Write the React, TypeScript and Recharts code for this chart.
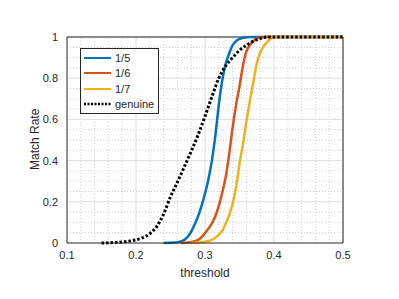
import { LineChart, Line, XAxis, YAxis, ReferenceLine } from "recharts";

const xTicks = [0.1, 0.2, 0.3, 0.4, 0.5];
const yTicks = [0, 0.2, 0.4, 0.6, 0.8, 1];
const xMinor = [0.12, 0.14, 0.16, 0.18, 0.22, 0.24, 0.26, 0.28, 0.32, 0.34, 0.36, 0.38, 0.42, 0.44, 0.46, 0.48];
const yMinor = [0.05, 0.1, 0.15, 0.25, 0.3, 0.35, 0.45, 0.5, 0.55, 0.65, 0.7, 0.75, 0.85, 0.9, 0.95];

const fifthX = [0.24, 0.25, 0.26, 0.27, 0.275, 0.28, 0.285, 0.29, 0.295, 0.3, 0.305, 0.31, 0.315, 0.32, 0.325, 0.33, 0.335, 0.34, 0.345, 0.35, 0.355, 0.36, 0.37, 0.4, 0.45, 0.5];
const fifthY = [0, 0.001, 0.004, 0.015, 0.03, 0.055, 0.09, 0.13, 0.18, 0.24, 0.31, 0.4, 0.52, 0.67, 0.79, 0.87, 0.92, 0.96, 0.98, 0.99, 0.996, 0.999, 1, 1, 1, 1];

const sixthX = [0.265, 0.27, 0.28, 0.29, 0.295, 0.3, 0.305, 0.31, 0.315, 0.32, 0.325, 0.33, 0.335, 0.34, 0.345, 0.35, 0.355, 0.36, 0.365, 0.37, 0.375, 0.38, 0.39, 0.42, 0.5];
const sixthY = [0, 0.001, 0.005, 0.015, 0.028, 0.047, 0.07, 0.095, 0.13, 0.18, 0.245, 0.32, 0.43, 0.56, 0.67, 0.76, 0.86, 0.93, 0.96, 0.98, 0.993, 0.998, 1, 1, 1];

const seventhX = [0.28, 0.29, 0.3, 0.31, 0.315, 0.32, 0.325, 0.33, 0.335, 0.34, 0.345, 0.35, 0.355, 0.36, 0.365, 0.37, 0.375, 0.38, 0.385, 0.39, 0.395, 0.4, 0.42, 0.5];
const seventhY = [0, 0.002, 0.006, 0.015, 0.025, 0.04, 0.06, 0.095, 0.135, 0.19, 0.27, 0.385, 0.48, 0.59, 0.69, 0.78, 0.87, 0.925, 0.955, 0.975, 0.99, 1, 1, 1];

const genuineX = [0.15, 0.16, 0.17, 0.18, 0.19, 0.2, 0.21, 0.22, 0.23, 0.24, 0.25, 0.26, 0.27, 0.28, 0.29, 0.3, 0.31, 0.32, 0.33, 0.34, 0.35, 0.36, 0.37, 0.38, 0.39, 0.4, 0.45, 0.5];
const genuineY = [0, 0.001, 0.003, 0.005, 0.009, 0.015, 0.026, 0.045, 0.08, 0.14, 0.225, 0.295, 0.37, 0.445, 0.525, 0.615, 0.71, 0.8, 0.86, 0.9, 0.935, 0.96, 0.98, 0.993, 1, 1, 1, 1];

const toPoints = (xs: number[], ys: number[]) => xs.map((x, i) => ({ x, y: ys[i] }));

const series = [
  { name: "1/5", color: "#0072BD", data: toPoints(fifthX, fifthY), dash: undefined as string | undefined },
  { name: "1/6", color: "#D95319", data: toPoints(sixthX, sixthY), dash: undefined },
  { name: "1/7", color: "#EDB120", data: toPoints(seventhX, seventhY), dash: undefined },
  { name: "genuine", color: "#000000", data: toPoints(genuineX, genuineY), dash: "2.5 2" },
];

const font = "'Liberation Sans', Arial, sans-serif";
const axisColor = "#262626";

function LegendBox() {
  return (
    <div
      style={{
        position: "absolute",
        left: 80,
        top: 48,
        width: 77,
        height: 63,
        border: "1px solid #262626",
        background: "#fff",
        fontFamily: font,
        fontSize: 11,
        color: axisColor,
        paddingTop: 1,
      }}
    >
      {series.map((s) => (
        <div key={s.name} style={{ display: "flex", alignItems: "center", height: 15.5 }}>
          <svg width={31} height={6} style={{ marginLeft: 3 }}>
            <line
              x1={0}
              y1={3}
              x2={27}
              y2={3}
              stroke={s.color}
              strokeWidth={s.dash ? 2.5 : 2}
              strokeDasharray={s.dash ? "2 1.5" : undefined}
            />
          </svg>
          <span>{s.name}</span>
        </div>
      ))}
    </div>
  );
}

export default function App() {
  return (
    <div style={{ position: "absolute", left: 0, top: 0, width: 399, height: 299, background: "#fff" }}>
      <LineChart width={399} height={299} margin={{ top: 37, right: 56, bottom: 26, left: 27 }}>
        <XAxis
          dataKey="x"
          type="number"
          domain={[0.1, 0.5]}
          ticks={xTicks}
          allowDuplicatedCategory={false}
          tickFormatter={(v: number) => String(v)}
          tick={{ fill: axisColor, fontSize: 11, fontFamily: font }}
          tickLine={false}
          axisLine={{ stroke: axisColor }}
          height={30}
          label={{ value: "threshold", position: "insideBottom", offset: -4, fill: axisColor, fontSize: 12, fontFamily: font }}
        />
        <YAxis
          type="number"
          domain={[0, 1]}
          ticks={yTicks}
          tickFormatter={(v: number) => String(v)}
          tick={{ fill: axisColor, fontSize: 11, fontFamily: font }}
          tickLine={false}
          tickMargin={3}
          axisLine={{ stroke: axisColor }}
          width={40}
          label={{ value: "Match Rate", angle: -90, position: "insideLeft", offset: 8, dy: 30, fill: axisColor, fontSize: 12, fontFamily: font }}
        />
        {xMinor.map((v) => (
          <ReferenceLine key={`xm${v}`} x={v} stroke="#d0d0d0" strokeDasharray="1 2" />
        ))}
        {yMinor.map((v) => (
          <ReferenceLine key={`ym${v}`} y={v} stroke="#d0d0d0" strokeDasharray="1 2" />
        ))}
        {xTicks.slice(1).map((v) => (
          <ReferenceLine key={`xM${v}`} x={v} stroke="#dedede" />
        ))}
        {yTicks.slice(1).map((v) => (
          <ReferenceLine key={`yM${v}`} y={v} stroke="#dedede" />
        ))}
        <ReferenceLine x={0.5} stroke={axisColor} />
        <ReferenceLine y={1} stroke={axisColor} />
        {series.map((s) => (
          <Line
            key={s.name}
            data={s.data}
            dataKey="y"
            name={s.name}
            type="monotone"
            stroke={s.color}
            strokeWidth={s.dash ? 3 : 2.5}
            strokeDasharray={s.dash}
            dot={false}
            activeDot={false}
            isAnimationActive={false}
          />
        ))}
      </LineChart>
      <LegendBox />
    </div>
  );
}
